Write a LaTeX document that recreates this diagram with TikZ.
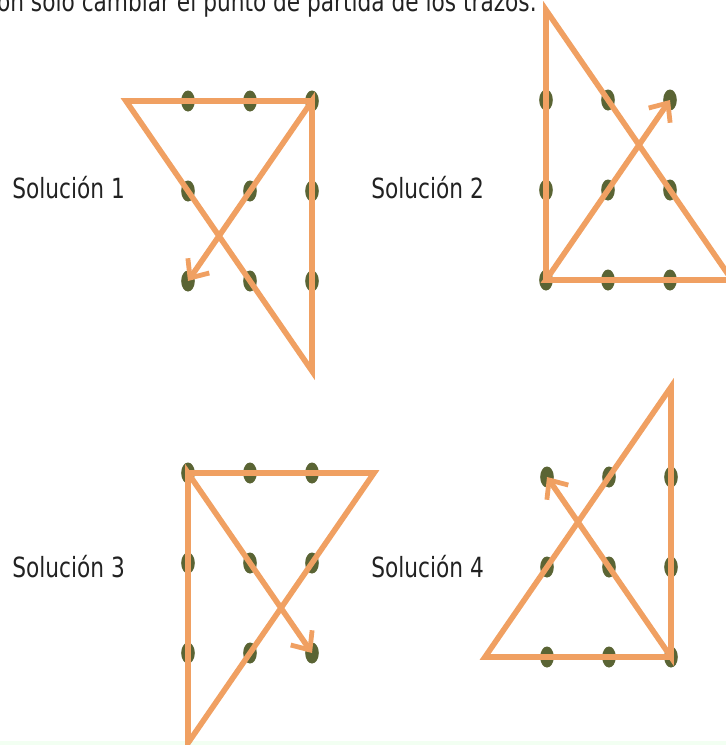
\documentclass[tikz,border=0pt]{standalone}
\usepackage{fontspec}
\setmainfont{DejaVu Sans}[FakeStretch=0.78]
\definecolor{TrazoNaranja}{HTML}{F0A062}
\definecolor{PuntoOliva}{HTML}{5A6434}
\definecolor{TextoGris}{HTML}{222222}
\usetikzlibrary{arrows.meta,positioning,shapes.geometric}

\begin{document}
\begin{tikzpicture}[x=0.5pt,y=-0.5pt,
    punto/.style={ellipse,fill=PuntoOliva,inner sep=0pt,minimum width=6.8pt,minimum height=10.5pt},
    trazo/.style={draw=TrazoNaranja,line width=2.8pt,line join=miter},
    flecha/.style={-{Straight Barb[length=7.5pt,width=13pt,line width=2.4pt]}},
    etiqueta/.style={inner sep=0pt,anchor=base west,text=TextoGris,font=\fontsize{13.9}{16}\selectfont}]
  \useasboundingbox (0,0) rectangle (726,745);
  \clip (0,0) rectangle (726,745);
  \fill[green!5!white] (0,741) rectangle (726,745);

  \node[etiqueta,anchor=base east] (titulo) at (537,11) {on solo cambiar el punto de partida de los trazos.};

  % dots of the four grids
  \foreach \s/\ox/\oy in {1/188/101,2/546/100,3/188/473,4/547/477}
    \foreach \c in {0,1,2}
      \foreach \r in {0,1,2}
        \node[punto] (s\s-\c\r) at ({\ox+62*\c},{\oy+90*\r}) {};

  \node[etiqueta] (sol1) at (12,198) {Solución 1};
  \node[etiqueta] (sol2) at (371,198) {Solución 2};
  \node[etiqueta] (sol3) at (12,577) {Solución 3};
  \node[etiqueta] (sol4) at (371,577) {Solución 4};

  % corners outside the grids
  \coordinate (e1a) at (126,101);
  \coordinate (e1b) at (312,371);
  \coordinate (e2a) at (546,10);
  \coordinate (e2b) at (732,280);
  \coordinate (e3a) at (374,473);
  \coordinate (e3b) at (188,743);
  \coordinate (e4a) at (485,657);
  \coordinate (e4b) at (671,387);

  \draw[trazo,flecha] (s1-20.center) -- (e1a) -- (e1b) -- (s1-20.center) -- (s1-02.center);
  \draw[trazo,flecha] (s2-02.center) -- (e2a) -- (e2b) -- (s2-02.center) -- (s2-20.center);
  \draw[trazo,flecha] (s3-00.center) -- (e3a) -- (e3b) -- (s3-00.center) -- (s3-22.center);
  \draw[trazo,flecha] (s4-22.center) -- (e4a) -- (e4b) -- (s4-22.center) -- (s4-00.center);
\end{tikzpicture}
\end{document}
